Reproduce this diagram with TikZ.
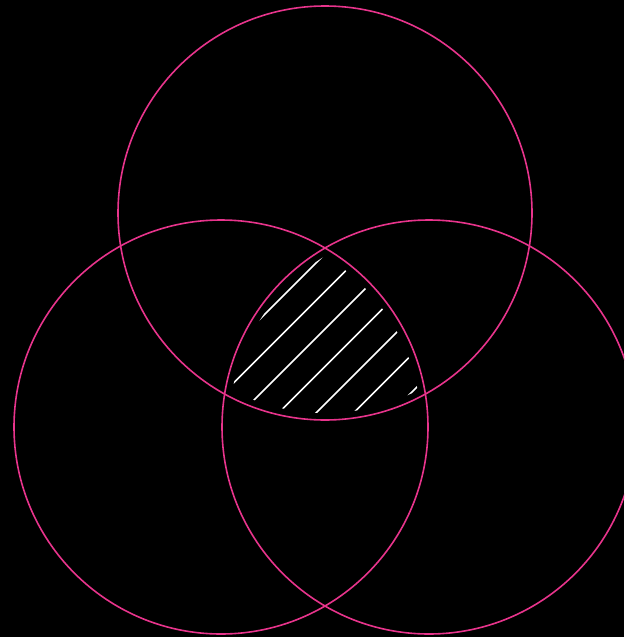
\documentclass[tikz,border=0pt]{standalone}
\definecolor{vpink}{RGB}{232,52,140}
\begin{document}
\begin{tikzpicture}[x=1pt,y=-1pt,
  ring/.style={draw=vpink,line width=1.6pt},
  hatchline/.style={draw=white,line width=1.5pt}]
\fill[black] (0,0) rectangle (624,637);
\useasboundingbox (0,0) rectangle (624,637);
\begin{scope}
  \clip (325,213) circle (200);
  \clip (221,427) circle (200);
  \clip (429,427) circle (200);
  \foreach \k in {-1,0,...,8} {
    \pgfmathsetmacro{\c}{579+37.5*\k}
    \draw[hatchline] (150,\c-150) -- (520,\c-520);
  }
\end{scope}
\begin{scope}
  \clip (0,0) rectangle (624,637);
  \draw[ring] (325,213) circle (207);
  \draw[ring] (221,427) circle (207);
  \draw[ring] (429,427) circle (207);
\end{scope}
\end{tikzpicture}
\end{document}
